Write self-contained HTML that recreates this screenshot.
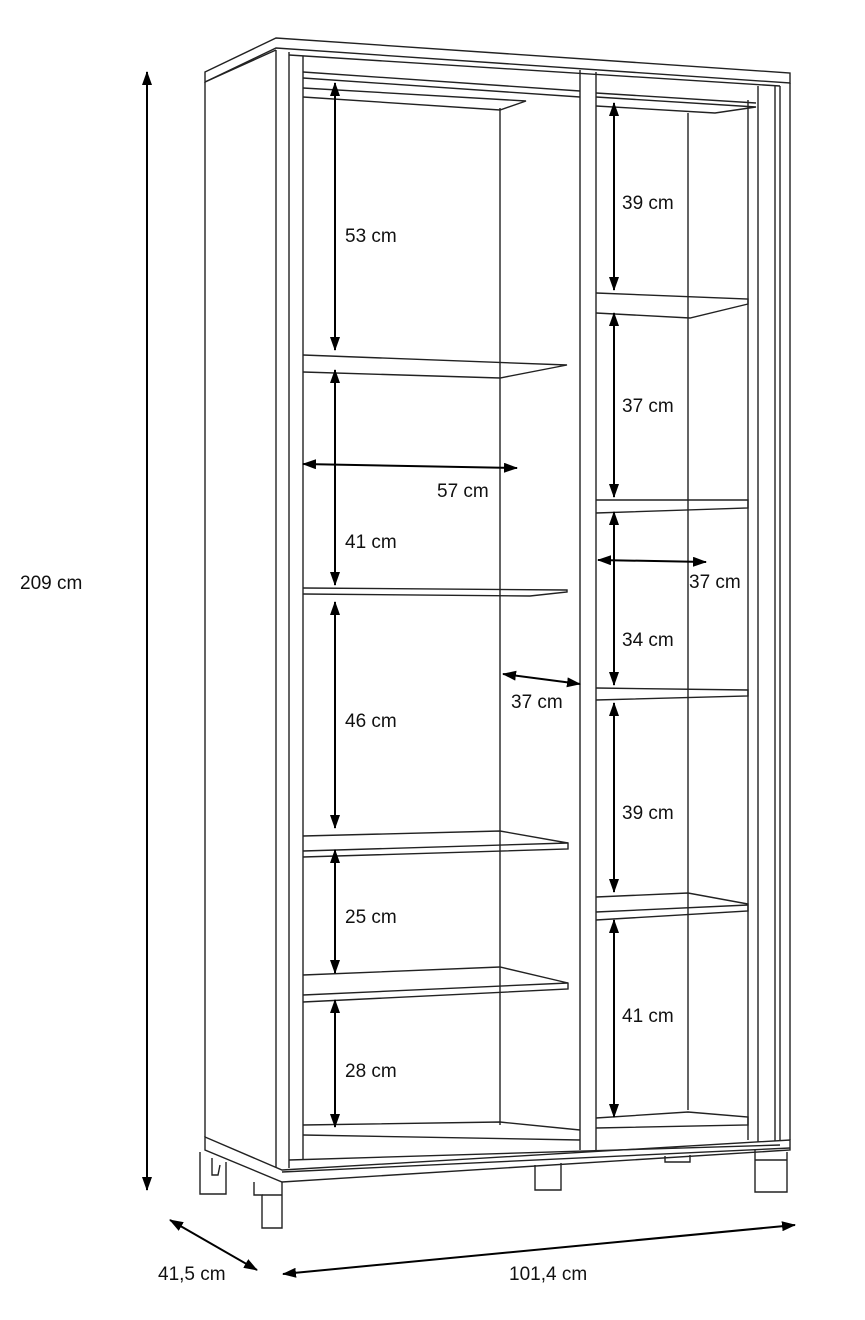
<!DOCTYPE html>
<html><head><meta charset="utf-8"><style>
html,body{margin:0;padding:0;background:#fff;}
svg{display:block}
text{font-family:"Liberation Sans",sans-serif;font-size:19px;fill:#111}
</style></head><body>
<svg width="865" height="1320" viewBox="0 0 865 1320" xmlns="http://www.w3.org/2000/svg">
<defs>
<marker id="a" viewBox="0 0 14 10" refX="13" refY="5" markerWidth="14" markerHeight="10" orient="auto-start-reverse" markerUnits="userSpaceOnUse"><path d="M0,0 L14,5 L0,10 z" fill="#000"/></marker>
</defs>
<g fill="none" stroke="#222" stroke-width="1.4">
<path d="M205,72 L276,38 L790,73 L790,83 L276,48 L205,82 Z" fill="#fff"/>
<path d="M205,82 L276,50"/>
<path d="M205,82 L205,1137"/>
<path d="M276,50 L276,1168"/>
<path d="M289,52 L289,1168"/>
<path d="M303,56 L303,1160"/>
<path d="M289,55 L780,86"/>
<path d="M303,72 L580,91"/>
<path d="M303,78 L580,97"/>
<path d="M303,88 L526,101 L500,110 L303,97"/>
<path d="M596,93 L756,103"/>
<path d="M596,97 L756,107 L715,113 L596,106"/>
<path d="M500,108 L500,1125"/>
<path d="M688,113 L688,1110"/>
<path d="M580,70 L580,1150"/>
<path d="M596,72 L596,1150"/>
<path d="M748,100 L748,1140"/>
<path d="M758,86 L758,1145"/>
<path d="M775,86 L775,1145"/>
<path d="M780,86 L780,1145"/>
<path d="M790,83 L790,1140"/>
<!-- left shelves -->
<path d="M303,355 L567,365 L500,378 L303,372"/>
<path d="M303,588 L567,590 L567,592 L530,596 L303,594"/>
<path d="M303,836 L500,831 L568,843 L568,849 L303,857"/>
<path d="M568,843 L303,851"/>
<path d="M303,975 L500,967 L568,983 L568,989 L303,1002"/>
<path d="M568,983 L303,995"/>
<path d="M303,1125 L500,1122 L580,1130"/>
<path d="M303,1135 L580,1140"/>
<!-- right shelves -->
<path d="M596,293 L748,299 L748,304 L690,318 L596,313"/>
<path d="M596,500 L748,500 L748,508 L596,513"/>
<path d="M596,688 L748,690 L748,696 L596,700"/>
<path d="M596,897 L688,893 L748,904 L748,911 L596,920"/>
<path d="M748,905 L596,912"/>
<path d="M596,1118 L688,1112 L748,1117 L748,1125 L596,1128"/>
<!-- base -->
<path d="M205,1137 L282,1170 L790,1140 L790,1150 L282,1182 L205,1150 Z" fill="#fff"/>
<path d="M282,1172 L790,1148"/>
<path d="M289,1160 L780,1145"/>
<path d="M200,1152 L200,1194 L226,1194 L226,1162"/>
<path d="M212,1158 L212,1175 L218,1175 L220,1165"/>
<path d="M254,1182 L254,1195 L262,1195 L262,1228 L282,1228 L282,1182"/>
<path d="M262,1195 L282,1195"/>
<path d="M535,1165 L535,1190 L561,1190 L561,1163"/>
<path d="M665,1156 L665,1162 L690,1162 L690,1155"/>
<path d="M755,1150 L755,1192 L787,1192 L787,1152"/>
<path d="M755,1160 L787,1160"/>
</g>
<g stroke="#000" stroke-width="2" marker-start="url(#a)" marker-end="url(#a)">
<line x1="335" y1="83" x2="335" y2="350"/>
<line x1="335" y1="370" x2="335" y2="585"/>
<line x1="335" y1="602" x2="335" y2="828"/>
<line x1="335" y1="850" x2="335" y2="973"/>
<line x1="335" y1="1000" x2="335" y2="1127"/>
<line x1="614" y1="103" x2="614" y2="290"/>
<line x1="614" y1="313" x2="614" y2="497"/>
<line x1="614" y1="512" x2="614" y2="685"/>
<line x1="614" y1="703" x2="614" y2="892"/>
<line x1="614" y1="920" x2="614" y2="1117"/>
<line x1="303" y1="464" x2="517" y2="468"/>
<line x1="598" y1="560" x2="706" y2="562"/>
<line x1="503" y1="674" x2="580" y2="684"/>
<line x1="147" y1="72" x2="147" y2="1190"/>
<line x1="170" y1="1220" x2="257" y2="1270"/>
<line x1="283" y1="1274" x2="795" y2="1225"/>
</g>
<g>
<text x="345" y="242">53 cm</text>
<text x="345" y="548">41 cm</text>
<text x="345" y="727">46 cm</text>
<text x="345" y="923">25 cm</text>
<text x="345" y="1077">28 cm</text>
<text x="622" y="209">39 cm</text>
<text x="622" y="412">37 cm</text>
<text x="622" y="646">34 cm</text>
<text x="622" y="819">39 cm</text>
<text x="622" y="1022">41 cm</text>
<text x="437" y="497">57 cm</text>
<text x="689" y="588">37 cm</text>
<text x="511" y="708">37 cm</text>
<text x="20" y="589">209 cm</text>
<text x="158" y="1280">41,5 cm</text>
<text x="509" y="1280">101,4 cm</text>
</g>
</svg>
</body></html>
